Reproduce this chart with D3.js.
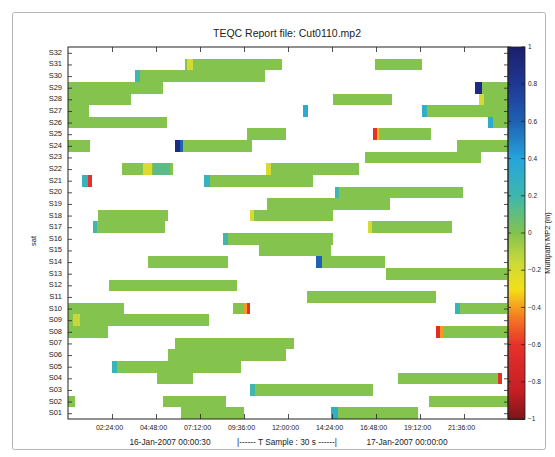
<!DOCTYPE html>
<html>
<head>
<meta charset="utf-8">
<script src="https://cdn.jsdelivr.net/npm/d3@7"></script>
<style>
  html, body { margin: 0; padding: 0; background: #fff; }
  svg text { font-family: "Liberation Sans", Arial, sans-serif; fill: #222; }
</style>
</head>
<body>
<svg id="chart" width="555" height="457"></svg>
<script>
// ---------------- data ----------------
const title = "TEQC Report file: Cut0110.mp2";
const yAxisLabel = "sat";
const colorbarLabel = "Multipath MP2 (m)";
const satLabels = ["S01","S02","S03","S04","S05","S06","S07","S08","S09","S10",
  "S11","S12","S13","S14","S15","S16","S17","S18","S19","S20",
  "S21","S22","S23","S24","S25","S26","S27","S28","S29","S30","S31","S32"];
const xTickHours = [2.4, 4.8, 7.2, 9.6, 12, 14.4, 16.8, 19.2, 21.6];
const xTickLabels = ["02:24:00","04:48:00","07:12:00","09:36:00","12:00:00",
  "14:24:00","16:48:00","19:12:00","21:36:00"];
const colorTicks = [1, 0.8, 0.6, 0.4, 0.2, 0, -0.2, -0.4, -0.6, -0.8, -1];
const startLabel = "16-Jan-2007 00:00:30";
const sampleLabel = "|------  T Sample : 30 s  ------|";
const endLabel = "17-Jan-2007 00:00:00";

// passes: [satellite number, start hour, end hour, value]
const passes = [
  [31, 6.38, 11.67, 0], [31, 16.75, 19.31, 0],
  [30, 3.65, 10.75, 0],
  [29, 0, 5.18, 0], [29, 22.2, 24, 0],
  [28, 0, 3.44, 0], [28, 14.45, 17.67, 0], [28, 22.42, 24, 0],
  [27, 0, 1.15, 0], [27, 12.82, 13.09, 0.35], [27, 19.31, 24, 0],
  [26, 0, 5.4, 0], [26, 22.91, 24, 0],
  [25, 9.76, 11.89, 0], [25, 16.64, 19.8, 0],
  [24, 0, 1.2, 0], [24, 5.84, 10.04, 0], [24, 21.22, 24, 0],
  [23, 16.2, 22.53, 0],
  [22, 2.95, 5.73, 0], [22, 10.8, 15.87, 0],
  [21, 0.76, 1.31, 0], [21, 7.42, 13.36, 0],
  [20, 14.56, 21.55, 0],
  [19, 10.85, 17.56, 0],
  [18, 1.64, 5.45, 0], [18, 9.93, 14.45, 0],
  [17, 1.36, 5.29, 0], [17, 16.36, 20.95, 0],
  [16, 8.45, 14.45, 0],
  [15, 10.42, 14.35, 0],
  [14, 4.36, 8.73, 0], [14, 13.53, 17.29, 0],
  [13, 17.35, 23.95, 0],
  [12, 2.24, 9.22, 0],
  [11, 13.04, 20.07, 0],
  [10, 0, 3.05, 0], [10, 9.0, 9.93, 0], [10, 21.11, 23.95, 0],
  [9, 0, 7.69, 0],
  [8, 0, 2.18, 0], [8, 20.07, 24, 0],
  [7, 5.84, 12.33, 0],
  [6, 5.45, 11.89, 0],
  [5, 2.4, 9.44, 0],
  [4, 4.85, 6.82, 0], [4, 18.0, 23.67, 0],
  [3, 9.93, 16.64, 0],
  [2, 0, 0.38, 0], [2, 5.18, 8.62, 0], [2, 19.69, 24, 0],
  [1, 6.16, 9.6, 0], [1, 14.35, 19.09, 0]
];

// accents (stronger multipath epochs): [satellite number, start hour, end hour, value]
const accents = [
  [31, 6.5, 6.8, -0.18],
  [30, 3.65, 3.9, 0.2],
  [29, 22.2, 22.6, 0.9],
  [28, 22.42, 22.68, -0.2],
  [27, 19.31, 19.6, 0.3],
  [26, 22.91, 23.2, 0.35],
  [25, 16.64, 16.85, -0.6], [25, 16.85, 16.98, -0.35],
  [24, 5.84, 6.1, 0.9], [24, 6.1, 6.25, 0.6],
  [22, 4.09, 4.58, -0.22], [22, 4.64, 5.56, 0.12], [22, 10.8, 11.05, -0.2],
  [21, 0.76, 1.09, 0.25], [21, 1.09, 1.31, -0.6], [21, 7.42, 7.75, 0.25],
  [20, 14.56, 14.8, 0.2],
  [18, 9.93, 10.15, -0.2],
  [17, 1.36, 1.6, 0.2], [17, 16.36, 16.6, -0.2],
  [16, 8.45, 8.75, 0.2],
  [14, 13.53, 13.85, 0.6],
  [10, 9.6, 9.75, -0.4], [10, 9.75, 9.93, -0.6], [10, 21.11, 21.4, 0.25],
  [9, 0.27, 0.65, -0.14],
  [8, 20.07, 20.3, -0.65], [8, 20.3, 20.45, -0.4],
  [5, 2.4, 2.65, 0.25],
  [4, 23.45, 23.67, -0.6],
  [3, 9.93, 10.2, 0.2],
  [1, 14.35, 14.7, 0.3]
];

// ---------------- layout ----------------
const svg = d3.select("#chart");
const L = 68, R = 508, T = 47, B = 419;
const cbL = 508, cbR = 525;

const x = d3.scaleLinear().domain([0, 24]).range([L, R]);
const y = d3.scaleLinear().domain([0.5, 32.5]).range([B, T]);
const cy = d3.scaleLinear().domain([-1, 1]).range([B, T]);

const color = d3.scaleLinear()
  .domain([-1, -0.85, -0.6, -0.45, -0.3, -0.15, 0, 0.2, 0.4, 0.6, 0.8, 1])
  .range(["#7a1517", "#c41e24", "#e6312a", "#f47a22", "#f4df18", "#c9d93a",
          "#84c34d", "#3fb7ad", "#25a5dc", "#1f62b2", "#1f3893", "#1c1f6c"])
  .interpolate(d3.interpolateRgb);

// outer frame
svg.append("rect").attr("x", 12.5).attr("y", 12.5).attr("width", 533).attr("height", 437)
  .attr("fill", "#fff").attr("stroke", "#b5b5b5").attr("stroke-width", 1).attr("rx", 2);

// title
svg.append("text").attr("x", 287).attr("y", 37).attr("text-anchor", "middle")
  .style("font-size", "10.5px").text(title);

// bars
const gBars = svg.append("g").attr("shape-rendering", "crispEdges");
gBars.selectAll("rect.pass").data(passes).join("rect").attr("class", "pass")
  .attr("x", d => x(d[1])).attr("width", d => x(d[2]) - x(d[1]))
  .attr("y", d => y(d[0] + 0.5)).attr("height", d => y(d[0] - 0.5) - y(d[0] + 0.5))
  .attr("fill", d => color(d[3]));
gBars.selectAll("rect.acc").data(accents).join("rect").attr("class", "acc")
  .attr("x", d => x(d[1])).attr("width", d => Math.max(1, x(d[2]) - x(d[1])))
  .attr("y", d => y(d[0] + 0.5)).attr("height", d => y(d[0] - 0.5) - y(d[0] + 0.5))
  .attr("fill", d => color(d[3]));

// colorbar
const cbSteps = d3.range(-1, 1, 0.005);
svg.append("g").attr("shape-rendering", "crispEdges").selectAll("rect").data(cbSteps).join("rect")
  .attr("x", cbL).attr("width", cbR - cbL)
  .attr("y", d => cy(d + 0.005)).attr("height", d => cy(d) - cy(d + 0.005) + 0.6)
  .attr("fill", d => color(d + 0.0025));
svg.append("rect").attr("x", cbL).attr("y", T).attr("width", cbR - cbL).attr("height", B - T)
  .attr("fill", "none").attr("stroke", "#222").attr("stroke-width", 0.8);

// colorbar ticks and labels
const gcb = svg.append("g");
colorTicks.forEach(v => {
  gcb.append("line").attr("x1", cbR).attr("x2", cbR - 4).attr("y1", cy(v)).attr("y2", cy(v))
    .attr("stroke", "#222").attr("stroke-width", 0.8);
  gcb.append("line").attr("x1", cbL).attr("x2", cbL + 3).attr("y1", cy(v)).attr("y2", cy(v))
    .attr("stroke", "#222").attr("stroke-width", 0.8);
});
gcb.selectAll("text").data(colorTicks).join("text")
  .attr("x", cbR + 3).attr("y", d => cy(d)).attr("dy", "0.35em")
  .style("font-size", "6.5px").text(d => d3.format("")(d));
svg.append("text").attr("transform", `translate(547,${(T + B) / 2 + 10}) rotate(-90)`)
  .attr("text-anchor", "middle").attr("dy", "0.35em").style("font-size", "7.5px").text(colorbarLabel);

// axes (ticks drawn inward, MATLAB style)
const xAxisB = d3.axisBottom(x).tickValues(xTickHours).tickSize(-5)
  .tickFormat((d, i) => xTickLabels[i]);
const gx = svg.append("g").attr("transform", `translate(0,${B})`).call(xAxisB);
gx.selectAll("text").attr("dy", "0.5em").attr("dx", "-3px").style("font-size", "7px").attr("y", 7);
const gxt = svg.append("g").attr("transform", `translate(0,${T})`)
  .call(d3.axisTop(x).tickValues(xTickHours).tickSize(-5).tickFormat(""));

const satNums = d3.range(1, 33);
const gy = svg.append("g").attr("transform", `translate(${L},0)`)
  .call(d3.axisLeft(y).tickValues(satNums).tickSize(-4).tickFormat((d, i) => satLabels[i]));
gy.selectAll("text").style("font-size", "7.5px").attr("x", -6).attr("dy", "0.2em");
const gyr = svg.append("g").attr("transform", `translate(${R},0)`)
  .call(d3.axisRight(y).tickValues(satNums).tickSize(-4).tickFormat(""));

[gx, gxt, gy, gyr].forEach(g => {
  g.select(".domain").remove();
  g.selectAll("line").attr("stroke", "#222").attr("stroke-width", 0.8);
  g.selectAll("text").style("fill", "#222");
});

// plot frame
svg.append("rect").attr("x", L).attr("y", T).attr("width", R - L).attr("height", B - T)
  .attr("fill", "none").attr("stroke", "#222").attr("stroke-width", 1);

// y label
svg.append("text").attr("transform", `translate(33,${(T + B) / 2 + 8}) rotate(-90)`)
  .attr("text-anchor", "middle").attr("dy", "0.35em").style("font-size", "7.5px").text(yAxisLabel);

// bottom time span text
svg.append("text").attr("x", 170).attr("y", 445).attr("text-anchor", "middle")
  .style("font-size", "8.3px").text(startLabel);
svg.append("text").attr("x", 287).attr("y", 445).attr("text-anchor", "middle")
  .style("font-size", "8.3px").text(sampleLabel);
svg.append("text").attr("x", 407).attr("y", 445).attr("text-anchor", "middle")
  .style("font-size", "8.3px").text(endLabel);
</script>
</body>
</html>
